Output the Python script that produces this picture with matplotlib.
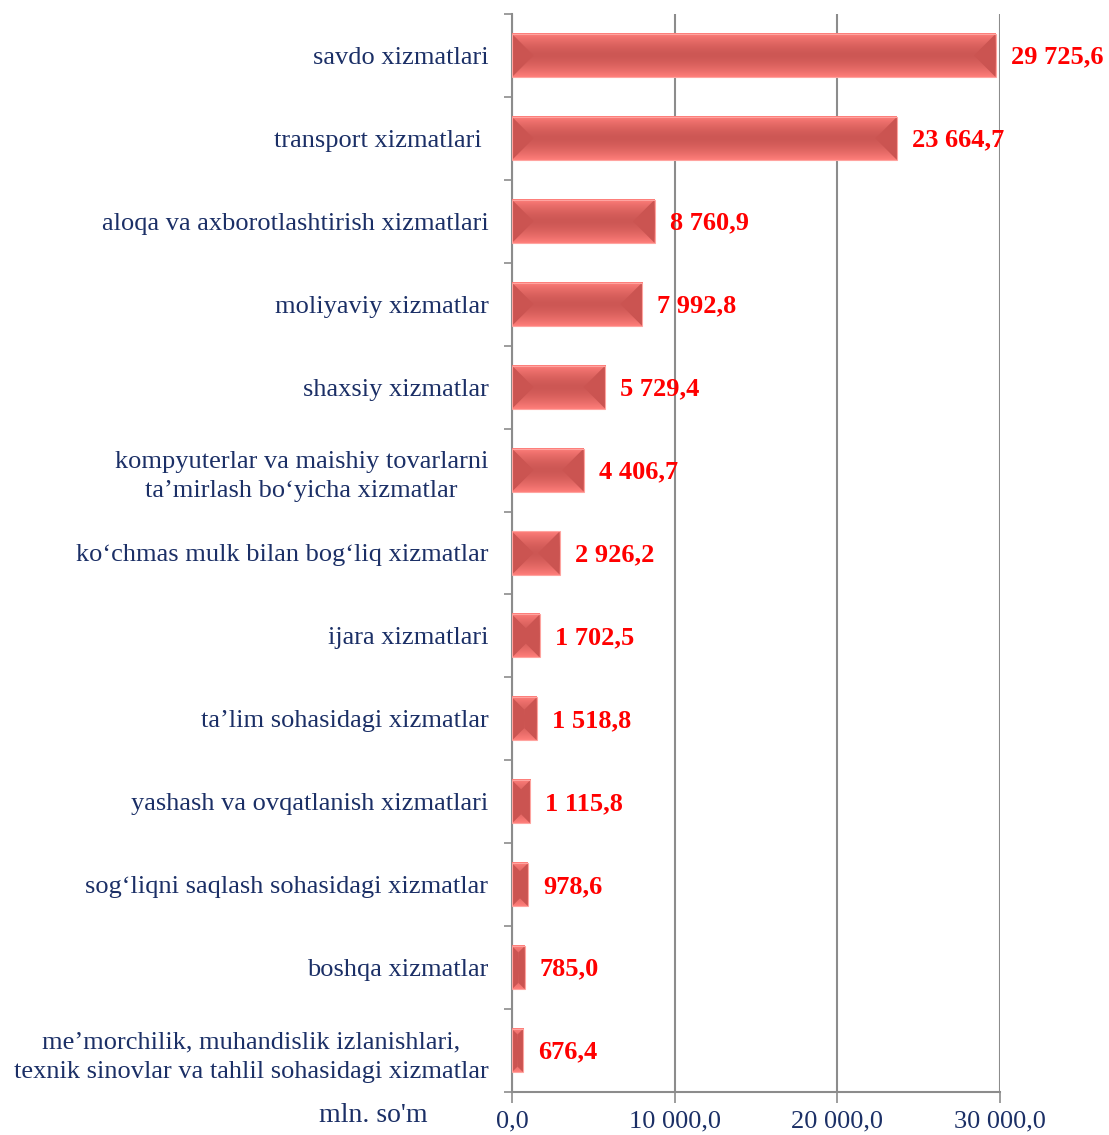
import numpy as np
from matplotlib import pyplot as plt
from matplotlib import patches as pat
from matplotlib.colors import to_rgb

categories = [
    "savdo xizmatlari",
    "transport xizmatlari ",
    "aloqa va axborotlashtirish xizmatlari",
    "moliyaviy xizmatlar",
    "shaxsiy xizmatlar",
    "kompyuterlar va maishiy tovarlarni\nta\u2019mirlash bo\u2018yicha xizmatlar",
    "ko\u2018chmas mulk bilan bog\u2018liq xizmatlar",
    "ijara xizmatlari",
    "ta\u2019lim sohasidagi xizmatlar",
    "yashash va ovqatlanish xizmatlari",
    "sog\u2018liqni saqlash sohasidagi xizmatlar",
    "boshqa xizmatlar",
    "me\u2019morchilik, muhandislik izlanishlari,\ntexnik sinovlar va tahlil sohasidagi xizmatlar",
]
values = [29725.6, 23664.7, 8760.9, 7992.8, 5729.4, 4406.7, 2926.2,
          1702.5, 1518.8, 1115.8, 978.6, 785.0, 676.4]
xticks = [0, 10000, 20000, 30000]
xticklabels = ["0,0", "10 000,0", "20 000,0", "30 000,0"]
unit_label = "mln. so'm"

navy = '#1b2f66'
grid_c = '#8c8c8c'
light = np.array(to_rgb('#ff7e7a'))
dark = np.array(to_rgb('#cd5754'))
side_c = '#cb5451'

plt.rcParams['font.family'] = ['Liberation Serif', 'DejaVu Serif']

W, H = 1109, 1135
fig = plt.figure(figsize=(W / 100, H / 100), dpi=100)
ax_l, ax_r, ax_t, ax_b = 512, 1000, 14, 1092
ax = fig.add_axes([ax_l / W, 1 - ax_b / H, (ax_r - ax_l) / W, (ax_b - ax_t) / H])

n = len(categories)
xmax = 30000
ppx = (ax_r - ax_l) / xmax       # pixels per x unit
ppy = (ax_b - ax_t) / n          # pixels per category
bh = 0.52

# vertical gradient: light at edges, dark in the middle
t = np.abs(np.linspace(-1, 1, 101))
prof = t ** 1.6
grad = dark[None, :] + (light - dark)[None, :] * prof[:, None]
grad = grad[:, None, :]

for i, v in enumerate(values):
    top, bot = i - bh / 2, i + bh / 2
    ax.imshow(grad, extent=(0, v, bot, top), aspect='auto',
              interpolation='bilinear', zorder=3)
    d_px = min(bh * ppy / 2, v * ppx / 2)
    dx, dy = d_px / ppx, d_px / ppy
    left = pat.Polygon([(0, top), (dx, top + dy), (dx, bot - dy), (0, bot)],
                       closed=True, facecolor=side_c, edgecolor='none', zorder=4)
    right = pat.Polygon([(v, top), (v - dx, top + dy), (v - dx, bot - dy), (v, bot)],
                        closed=True, facecolor=side_c, edgecolor='none', zorder=4)
    ax.add_patch(left)
    ax.add_patch(right)
    ax.add_patch(pat.Rectangle((0, top), v, bh, fill=False, edgecolor='#ffa4a0',
                               linewidth=0.8, zorder=5))
    lbl = f"{v:,.1f}".replace(',', ' ').replace('.', ',')
    ax.text(v + 15 / ppx, i + 0.02, lbl, ha='left', va='center', color='red',
            fontsize=19, fontweight='bold', zorder=6, clip_on=False)

ax.set_xlim(0, xmax)
ax.set_ylim(n - 0.5, -0.5)

ax.set_xticks(xticks)
ax.set_xticklabels(xticklabels, fontsize=19, color=navy)
ax.tick_params(axis='x', length=8, width=1.2, color=grid_c, pad=5)
ax.xaxis.grid(True, color=grid_c, linewidth=1.5, zorder=0)
ax.set_axisbelow(True)

ax.set_yticks(range(n))
ax.set_yticklabels(categories, fontsize=19, color=navy)
for tl in ax.get_yticklabels():
    tl.set_multialignment('center')
    tl.set_linespacing(1.45)
ax.tick_params(axis='y', which='major', length=0, pad=17)
ax.set_yticks(np.arange(-0.5, n, 1.0), minor=True)
ax.tick_params(axis='y', which='minor', length=6, width=1.2, color=grid_c)

for s in ['top', 'right']:
    ax.spines[s].set_visible(False)
for s in ['left', 'bottom']:
    ax.spines[s].set_color(grid_c)
    ax.spines[s].set_linewidth(1.5)

fig.text(373 / W, 1 - 1115 / H, unit_label, ha='center', va='center',
         fontsize=20, color=navy)

fig.savefig('out.png', dpi=100)
